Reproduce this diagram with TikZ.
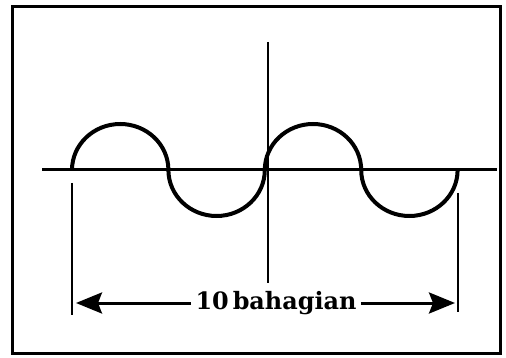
\documentclass[tikz,border=0pt]{standalone}
\usepackage{fontspec}
\usepackage{tikz}
\usetikzlibrary{positioning,arrows.meta,calc}
\newfontfamily\labelfont{DejaVu Serif}
\tikzset{
  >=stealth,
  % --- lines
  frame/.style = {line width=0.6mm, draw=black},
  axis/.style  = {line width=0.6mm, draw=black},
  wave/.style  = {line width=0.8mm, draw=black},
  tick/.style  = {line width=0.5mm, draw=black},
  dim/.style   = {line width=0.6mm, draw=black,
                  -{Stealth[length=5.2mm,width=4.2mm,inset=0.8mm]}},
  lbl/.style   = {font=\labelfont\fontsize{13.6}{16}\selectfont\bfseries, inner sep=0.8mm},
}
\begin{document}
\begin{tikzpicture}[x=0.2mm,y=0.2mm]
  \useasboundingbox (0,0) rectangle (506,357);
  \draw[frame] (12,4) rectangle (500,350);
  % --- axes
  \coordinate (xl) at (42,187);
  \coordinate (xr) at (497,187);
  \coordinate (yt) at (268,315);
  \coordinate (yb) at (268,74);
  \draw[axis] (xl) -- (xr);
  \draw[tick] (yt) -- (yb);
  % --- wave, two periods
  \coordinate (w0) at (72,187);
  \draw[wave] (w0)
    arc[start angle=180, end angle=0,   x radius=48.2, y radius=46]
    arc[start angle=180, end angle=360, x radius=48.2, y radius=46]
    arc[start angle=180, end angle=0,   x radius=48.2, y radius=46]
    arc[start angle=180, end angle=360, x radius=48.2, y radius=46];
  % --- ticks
  \coordinate (lt) at (72,174);
  \coordinate (lb) at (72,42);
  \coordinate (rt) at (458,164);
  \coordinate (rb) at (458,45);
  \draw[tick] (lt) -- (lb);
  \draw[tick] (rt) -- (rb);
  % --- span
  \node[lbl] (span) at (276,54) {10\,bahagian};
  \coordinate (la) at (76,54);
  \coordinate (ra) at (455,54);
  \draw[dim] (span) -- (la);
  \draw[dim] (span) -- (ra);
\end{tikzpicture}
\end{document}
